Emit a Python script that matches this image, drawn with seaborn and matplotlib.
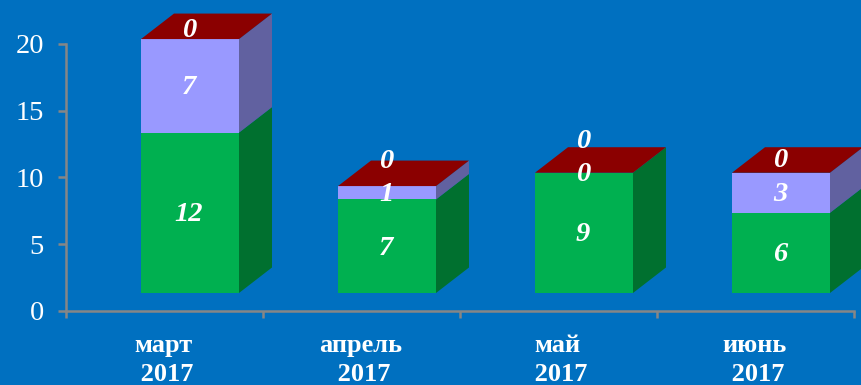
import numpy as np
import pandas as pd
import matplotlib
matplotlib.use("Agg")
import matplotlib.pyplot as plt
import seaborn as sns

months = ["март", "апрель", "май", "июнь"]
year = "2017"
series_a = [12, 7, 9, 6]
series_b = [7, 1, 0, 3]
series_c = [0, 0, 0, 0]
y_ticks = [0, 5, 10, 15, 20]

# Layout (pseudo-3D look of the original)
W, H = 861, 385
AX_L, AX_R, AX_B, AX_T = 66, 854, 311, 43.7
SLOT = (AX_R - AX_L) / len(months)
UNIT = (AX_B - AX_T) / 20
BASE = 18 / UNIT
DX = 33 / SLOT
DY = 25.5 / UNIT
BAR_W = 98 / SLOT
X0 = (190 - AX_L) / SLOT - 0.5   # shift of the bars inside each slot
TOP_LIFT = [10 / UNIT, 26 / UNIT, 33 / UNIT, 14 / UNIT]
LABEL_DROP = 1.8 / UNIT
LABEL_SHIFT = 1.3 / SLOT         # month labels sit a little left of the slot centre

BG = "#0070C0"
GREY = "#868686"
C_FRONT = ["#00B050", "#9999FF"]
C_SIDE = ["#00702F", "#6161A0"]
C_TOP = "#8B0000"

sns.set_theme(style="white")
plt.rcParams["font.family"] = ["Liberation Serif", "DejaVu Serif"]

fig = plt.figure(figsize=(W / 100, H / 100), dpi=100, facecolor=BG)
ax = fig.add_axes([AX_L / W, 1 - AX_B / H, (AX_R - AX_L) / W, (AX_B - AX_T) / H], facecolor=BG)

a = np.array(series_a, float)
b = np.array(series_b, float)
c = np.array(series_c, float)
df = pd.DataFrame({"month": months, "a": a, "b": b, "c": c})

bottoms = [np.full(4, BASE), BASE + a]
for col, bot, colour in zip(["a", "b"], bottoms, C_FRONT):
    sns.barplot(data=df, x="month", y=col, bottom=bot, color=colour, saturation=1,
                width=BAR_W, ax=ax, clip_on=False, linewidth=0, zorder=3)

xs = np.arange(4)
for vals, bot, colour in zip([a, b], bottoms, C_SIDE):
    for x, v, y0 in zip(xs, vals, bot):
        if v > 0:
            r = x + BAR_W / 2
            ax.fill([r, r + DX, r + DX, r], [y0, y0 + DY, y0 + v + DY, y0 + v],
                    color=colour, lw=0, clip_on=False, zorder=3)

tops = BASE + a + b + c
for x, t in zip(xs, tops):
    l, r = x - BAR_W / 2, x + BAR_W / 2
    ax.fill([l, r, r + DX, l + DX], [t, t, t + DY, t + DY],
            color=C_TOP, lw=0, clip_on=False, zorder=3)

label_kw = dict(color="white", fontsize=20.5, fontweight="bold", fontstyle="italic",
                ha="center", va="center", zorder=5, clip_on=False)
for x, va, vb, vc, t, lift in zip(xs, a, b, c, tops, TOP_LIFT):
    lx = x - 1 / SLOT
    ax.text(lx, BASE + va / 2 - LABEL_DROP, f"{va:.0f}", **label_kw)
    ax.text(lx, BASE + va + vb / 2 - LABEL_DROP, f"{vb:.0f}", **label_kw)
    ax.text(lx, t + lift - LABEL_DROP, f"{vc:.0f}", **label_kw)

ax.set_xlim(-0.5 - X0, 3.5 - X0)
ax.set_ylim(0, 20)
ax.set_xlabel("")
ax.set_ylabel("")
ax.set_yticks(y_ticks)
ax.set_xticks(np.arange(5) - 0.5 - X0)
ax.set_xticklabels([])
ax.set_xticks(xs - X0 - LABEL_SHIFT, minor=True)
ax.set_xticklabels([f"{m}\n {year}" for m in months], minor=True,
                   fontsize=19, fontweight="bold", color="white", linespacing=1.33)
ax.tick_params(axis="x", which="major", length=5.2, width=1.8, color=GREY, bottom=True)
ax.tick_params(axis="x", which="minor", length=0, pad=16.5, bottom=True)
ax.tick_params(axis="y", length=5.8, width=1.8, color=GREY, labelsize=20.5, labelcolor="white", pad=10, left=True)
for s in ["top", "right"]:
    ax.spines[s].set_visible(False)
for s in ["left", "bottom"]:
    ax.spines[s].set_color(GREY)
    ax.spines[s].set_linewidth(1.8)

fig.savefig("out.png", dpi=100, facecolor=BG)
